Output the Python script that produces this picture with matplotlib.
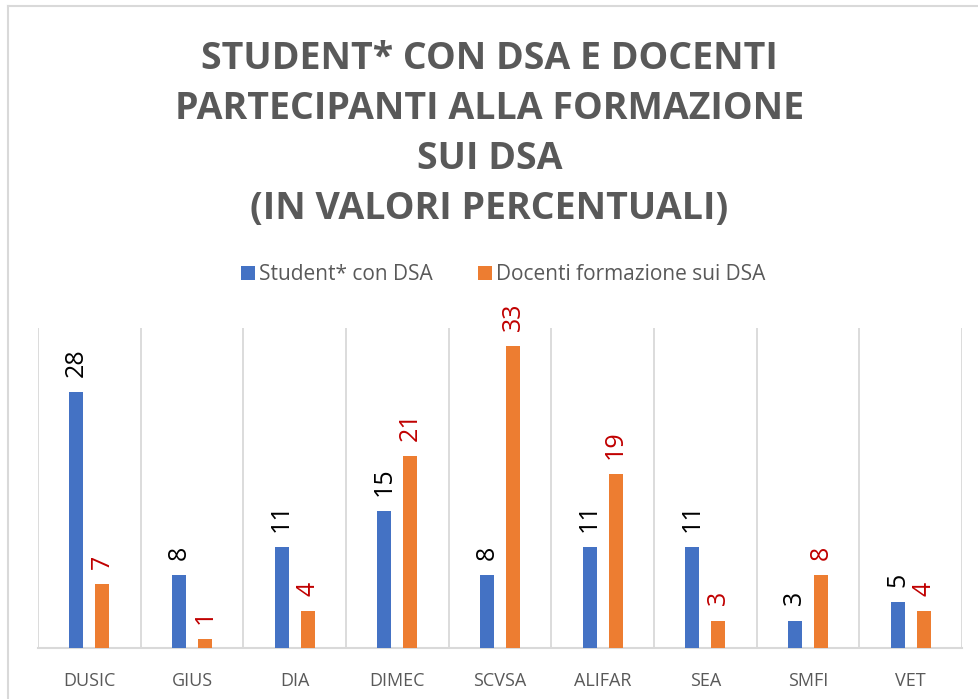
import numpy as np
import matplotlib.pyplot as plt
from matplotlib.lines import Line2D

categories = ["DUSIC", "GIUS", "DIA", "DIMEC", "SCVSA", "ALIFAR", "SEA", "SMFI", "VET"]
studenti = [28, 8, 11, 15, 8, 11, 11, 3, 5]
docenti = [7, 1, 4, 21, 33, 19, 3, 8, 4]
series_names = ["Student* con DSA", "Docenti formazione sui DSA"]

title = "STUDENT* CON DSA E DOCENTI\nPARTECIPANTI ALLA FORMAZIONE\nSUI DSA\n(IN VALORI PERCENTUALI)"

plt.rcParams['font.family'] = ['Open Sans', 'DejaVu Sans']
grey = '#595959'

fig = plt.figure(figsize=(9.79, 6.99), dpi=100)
ax = fig.add_axes([0.0388, 0.073, 0.9438, 0.4578])

x = np.arange(len(categories))
w = 0.137
off = 0.127
b1 = ax.bar(x - off, studenti, w, color='#4472C4', label=series_names[0], zorder=3)
b2 = ax.bar(x + off, docenti, w, color='#ED7D31', label=series_names[1], zorder=3)

ax.bar_label(b1, rotation=90, padding=11, fontsize=18, color='black')
ax.bar_label(b2, rotation=90, padding=11, fontsize=18, color='#C00000')

ax.set_xlim(-0.5, len(categories) - 0.5)
ax.set_ylim(0, 35)
ax.set_yticks([])
ax.set_xticks(x)
ax.set_xticklabels(categories, fontsize=13, color=grey)
ax.tick_params(axis='x', length=0, pad=17)
ax.set_xticks(np.arange(-0.5, len(categories)), minor=True)
ax.tick_params(axis='x', which='minor', length=0)
ax.grid(which='minor', axis='x', color='#D9D9D9', linewidth=1.3, zorder=0)
for s in ['top', 'right', 'left']:
    ax.spines[s].set_visible(False)
ax.spines['bottom'].set_color('#D9D9D9')
ax.spines['bottom'].set_linewidth(1.5)

fig.text(0.5, 1 - 134 / 699, title, ha='center', va='center', fontsize=27,
         fontweight='bold', color=grey, linespacing=1.42)

fig.legend(loc='center', bbox_to_anchor=(0.514, 1 - 275 / 699), ncol=2, frameon=False,
           fontsize=15, handlelength=0.65, handleheight=0.65, handletextpad=0.2,
           columnspacing=2.2, labelcolor=grey)

# chart frame (top and left edges visible)
fig.add_artist(Line2D([8 / 979, 1], [1 - 6 / 699, 1 - 6 / 699], color='#D9D9D9', lw=1.5))
fig.add_artist(Line2D([8 / 979, 8 / 979], [0, 1 - 6 / 699], color='#D9D9D9', lw=1.5))

fig.savefig('out.png', dpi=100)
